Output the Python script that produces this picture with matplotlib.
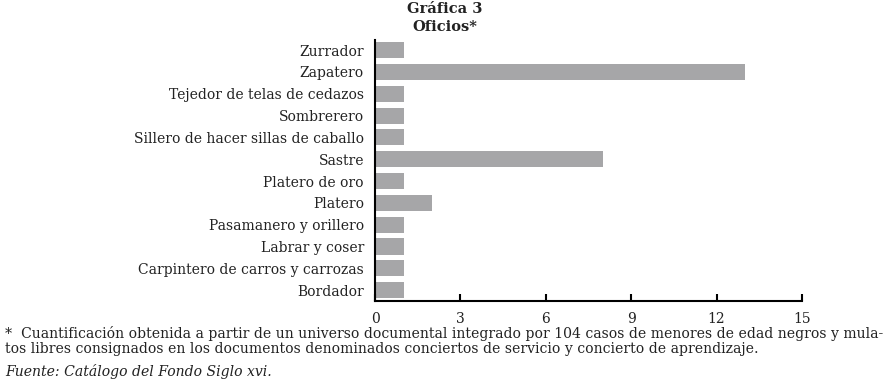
import matplotlib.pyplot as plt

oficios = ["Bordador", "Carpintero de carros y carrozas", "Labrar y coser",
           "Pasamanero y orillero", "Platero", "Platero de oro", "Sastre",
           "Sillero de hacer sillas de caballo", "Sombrerero",
           "Tejedor de telas de cedazos", "Zapatero", "Zurrador"]
casos = [1, 1, 1, 1, 2, 1, 8, 1, 1, 1, 13, 1]
xticks = [0, 3, 6, 9, 12, 15]

plt.rcParams['font.family'] = ['DejaVu Serif']

fig = plt.figure(figsize=(8.86, 3.82), dpi=100)
ax = fig.add_axes([0.4233, 0.212, 0.4819, 0.683])

ax.barh(range(len(oficios)), casos, height=0.74, color='#a6a6a8')
ax.set_yticks(range(len(oficios)))
ax.set_yticklabels(oficios, fontsize=10, color='#222222')
ax.set_xticks(xticks)
ax.set_xticklabels([str(t) for t in xticks], fontsize=10, color='#222222')
ax.set_xlim(0, 15)
ax.set_ylim(-0.5, 11.46)

for s in ['top', 'right']:
    ax.spines[s].set_visible(False)
ax.spines['left'].set_linewidth(1.5)
ax.spines['bottom'].set_linewidth(1.5)
ax.tick_params(axis='y', length=0, pad=8)
ax.tick_params(axis='x', direction='in', length=5, width=1.5, pad=8)

fig.text(0.502, 0.994, "Gráfica 3", ha='center', va='top', fontsize=10.5, fontweight='bold', color='#222222')
fig.text(0.502, 0.947, "Oficios*", ha='center', va='top', fontsize=10.5, fontweight='bold', color='#222222')

fig.text(0.006, 0.128, "*  Cuantificación obtenida a partir de un universo documental integrado por 104 casos de menores de edad negros y mula-",
         fontsize=10.1, color='#222222', va='center')
fig.text(0.006, 0.086, "tos libres consignados en los documentos denominados conciertos de servicio y concierto de aprendizaje.",
         fontsize=10.1, color='#222222', va='center')
fig.text(0.006, 0.027, "Fuente: Catálogo del Fondo Siglo xvi.", fontsize=10.1, style='italic', color='#222222', va='center')

fig.savefig('out.png', dpi=100)
